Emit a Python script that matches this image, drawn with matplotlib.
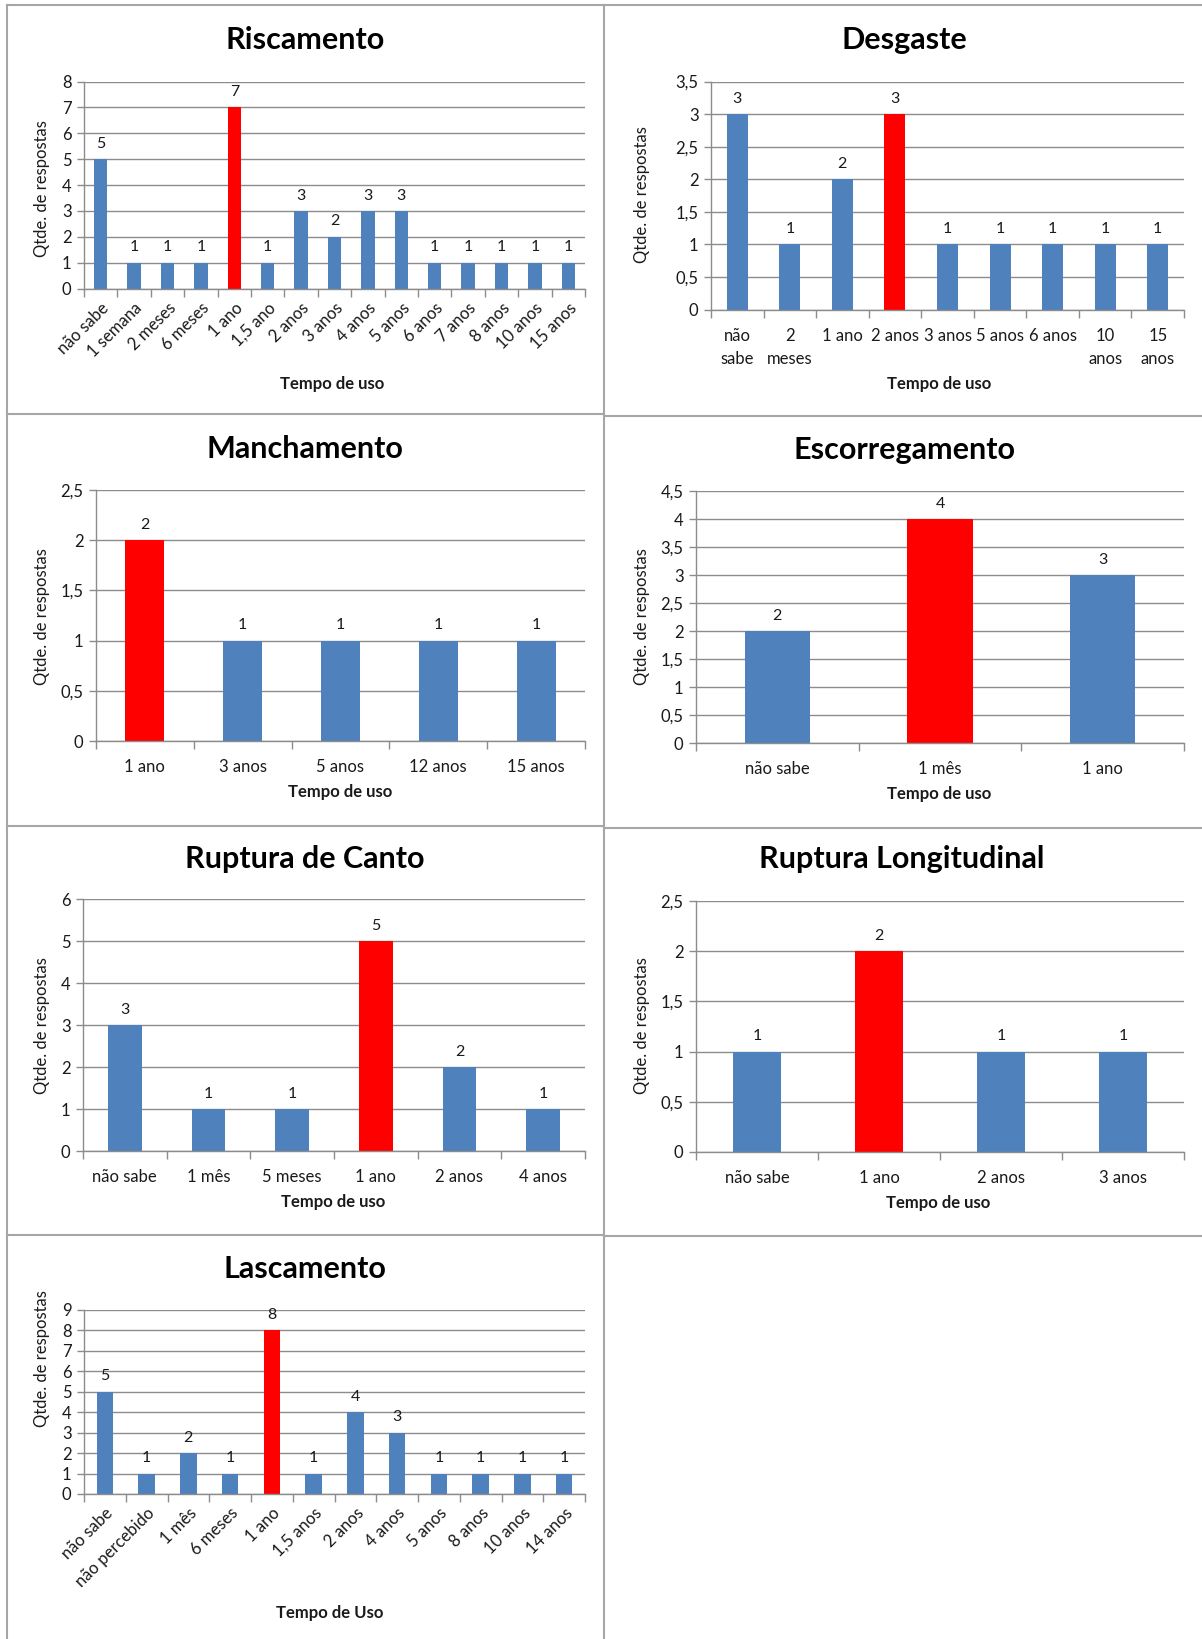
import numpy as np
import matplotlib
matplotlib.use('Agg')
import matplotlib.pyplot as plt

plt.rcParams['font.family'] = ['Lato', 'DejaVu Sans']

BLUE = '#4f81bd'
RED = '#ff0000'
GRID = '#8c8c8c'
FRAME = '#a6a6a6'
TXT = '#1a1a1a'

# --- data -------------------------------------------------------------
risc_cats = ['não sabe', '1 semana', '2 meses', '6 meses', '1 ano', '1,5 ano', '2 anos',
             '3 anos', '4 anos', '5 anos', '6 anos', '7 anos', '8 anos', '10 anos', '15 anos']
risc_vals = [5, 1, 1, 1, 7, 1, 3, 2, 3, 3, 1, 1, 1, 1, 1]
risc_red = 4

desg_cats = ['não\nsabe', '2\nmeses', '1 ano', '2 anos', '3 anos', '5 anos', '6 anos',
             '10\nanos', '15\nanos']
desg_vals = [3, 1, 2, 3, 1, 1, 1, 1, 1]
desg_red = 3

manch_cats = ['1 ano', '3 anos', '5 anos', '12 anos', '15 anos']
manch_vals = [2, 1, 1, 1, 1]
manch_red = 0

escor_cats = ['não sabe', '1 mês', '1 ano']
escor_vals = [2, 4, 3]
escor_red = 1

canto_cats = ['não sabe', '1 mês', '5 meses', '1 ano', '2 anos', '4 anos']
canto_vals = [3, 1, 1, 5, 2, 1]
canto_red = 3

longi_cats = ['não sabe', '1 ano', '2 anos', '3 anos']
longi_vals = [1, 2, 1, 1]
longi_red = 1

lasc_cats = ['não sabe', 'não percebido', '1 mês', '6 meses', '1 ano', '1,5 anos', '2 anos',
             '4 anos', '5 anos', '8 anos', '10 anos', '14 anos']
lasc_vals = [5, 1, 2, 1, 8, 1, 4, 3, 1, 1, 1, 1]
lasc_red = 4

W, H = 1202, 1639
fig = plt.figure(figsize=(W / 100, H / 100), dpi=100)

# background layer in pixel coordinates for frames and titles
bg = fig.add_axes([0, 0, 1, 1])
bg.set_xlim(0, W)
bg.set_ylim(H, 0)
bg.axis('off')

# panel frames
for x0, x1, y in [(7, W, 5), (7, 604, 414), (7, 604, 826), (7, 604, 1235),
                  (604, W, 416), (604, W, 828), (604, W, 1236)]:
    bg.plot([x0, x1], [y, y], color=FRAME, lw=1.5)
for x in [7, 604]:
    bg.plot([x, x], [5, H], color=FRAME, lw=1.5)

panels = [
    # title, cats, vals, red, ymax, ystep, box(l, r, top, bottom), title xy, ylabel xy, xlabel xy, rotate, xlabel text
    ('Riscamento', risc_cats, risc_vals, risc_red, 8, 1, (84, 585, 81.5, 288.5),
     (305, 40), (42, 189), (332, 384), True, 'Tempo de uso'),
    ('Desgaste', desg_cats, desg_vals, desg_red, 3.5, 0.5, (711, 1184, 81.5, 309.5),
     (904, 40), (642, 195), (939, 384), False, 'Tempo de uso'),
    ('Manchamento', manch_cats, manch_vals, manch_red, 2.5, 0.5, (96, 585, 490, 741),
     (305, 449), (42, 617), (340, 792), False, 'Tempo de uso'),
    ('Escorregamento', escor_cats, escor_vals, escor_red, 4.5, 0.5, (696, 1184, 491, 743),
     (904, 450), (642, 617), (939, 794), False, 'Tempo de uso'),
    ('Ruptura de Canto', canto_cats, canto_vals, canto_red, 6, 1, (83, 585, 899, 1151),
     (305, 859), (42, 1026), (333, 1202), False, 'Tempo de uso'),
    ('Ruptura Longitudinal', longi_cats, longi_vals, longi_red, 2.5, 0.5, (696, 1184, 901, 1152),
     (902, 859), (642, 1026), (938, 1203), False, 'Tempo de uso'),
    ('Lascamento', lasc_cats, lasc_vals, lasc_red, 9, 1, (84, 585, 1310, 1494),
     (305, 1269), (42, 1359), (330, 1613), True, 'Tempo de Uso'),
]

for (title, cats, vals, red, ymax, ystep, box, t_xy, yl_xy, xl_xy, rot, xl) in panels:
    l, r, top, bot = box
    ax = fig.add_axes([l / W, 1 - bot / H, (r - l) / W, (bot - top) / H])
    n = len(cats)
    x = np.arange(n)
    colors = [RED if i == red else BLUE for i in range(n)]
    ax.bar(x, vals, width=0.4, color=colors, zorder=3)
    for xi, v in zip(x, vals):
        ax.annotate(str(v), (xi, v), xytext=(0, 6), textcoords='offset points',
                    ha='center', va='bottom', fontsize=11.5, color=TXT)

    ax.set_xlim(-0.5, n - 0.5)
    ax.set_ylim(0, ymax)
    yt = np.arange(0, ymax + ystep / 2, ystep)
    ax.set_yticks(yt)
    ax.set_yticklabels([('%g' % v).replace('.', ',') for v in yt], fontsize=12, color=TXT)
    ax.yaxis.grid(True, color=GRID, lw=1, zorder=0)
    ax.tick_params(axis='y', length=5, width=1, color=GRID, pad=4, direction='out')

    # tick marks on category boundaries, labels centred on categories
    ax.set_xticks(np.arange(-0.5, n, 1.0))
    ax.set_xticklabels([])
    ax.tick_params(axis='x', which='major', length=6, width=1, color=GRID, direction='out')
    ax.set_xticks(x, minor=True)
    if rot:
        ax.set_xticklabels(cats, minor=True, rotation=45, ha='right',
                           rotation_mode='anchor', fontsize=12, color=TXT)
        ax.tick_params(axis='x', which='minor', length=0, pad=8)
    else:
        ax.set_xticklabels(cats, minor=True, fontsize=12, color=TXT, linespacing=1.55)
        ax.tick_params(axis='x', which='minor', length=0, pad=13)

    for s in ['top', 'right']:
        ax.spines[s].set_visible(False)
    for s in ['left', 'bottom']:
        ax.spines[s].set_color(GRID)
        ax.spines[s].set_linewidth(1)
        ax.spines[s].set_zorder(4)
    ax.set_axisbelow(True)

    bg.text(t_xy[0], t_xy[1], title, ha='center', va='center', fontsize=22,
            fontweight='bold', color='black')
    bg.text(yl_xy[0], yl_xy[1], 'Qtde. de respostas', ha='center', va='center',
            rotation=90, fontsize=12, color=TXT)
    bg.text(xl_xy[0], xl_xy[1], xl, ha='center', va='center', fontsize=12,
            fontweight='bold', color=TXT)

fig.savefig('out.png', dpi=100, facecolor='white')
